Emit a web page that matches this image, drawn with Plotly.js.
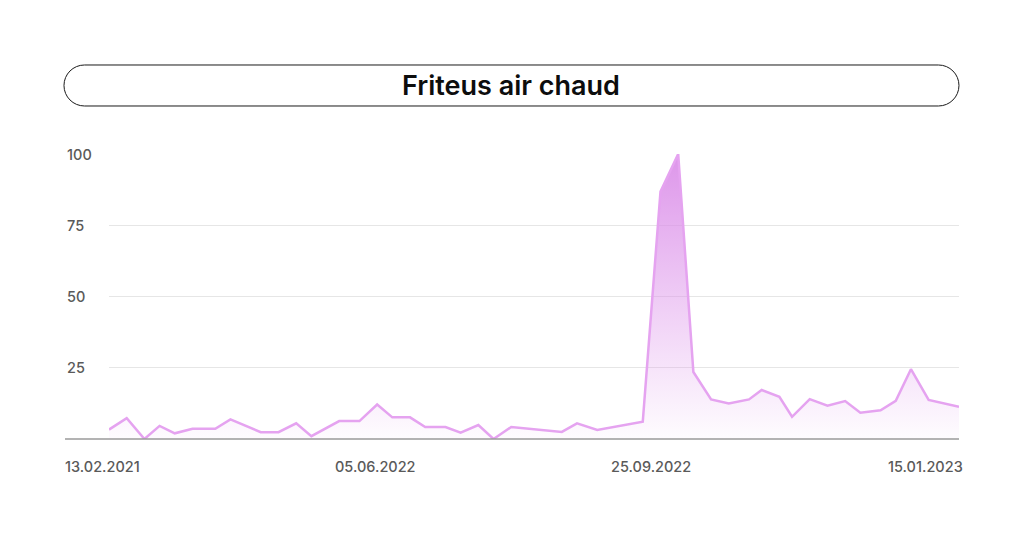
<!DOCTYPE html>
<html>
<head>
<meta charset="utf-8">
<script src="https://cdn.plot.ly/plotly-3.0.1.min.js"></script>
<style>html,body{margin:0;padding:0;background:#fff;}#chart{width:1024px;height:538px;}</style>
</head>
<body>
<div id="chart"></div>
<script>
// ---- data ----
const chartTitle = "Friteus air chaud";
const dates = [
  "2022-02-13","2022-02-20","2022-02-27","2022-03-05","2022-03-11","2022-03-18","2022-03-27","2022-04-02",
  "2022-04-14","2022-04-21","2022-04-28","2022-05-04","2022-05-15","2022-05-23","2022-05-30","2022-06-05",
  "2022-06-12","2022-06-18","2022-06-26","2022-07-02","2022-07-09","2022-07-15","2022-07-22","2022-08-11",
  "2022-08-17","2022-08-25","2022-09-12","2022-09-19","2022-09-26","2022-10-02","2022-10-09","2022-10-16",
  "2022-10-24","2022-10-29","2022-11-05","2022-11-10","2022-11-17","2022-11-24","2022-12-01","2022-12-07",
  "2022-12-15","2022-12-21","2022-12-27","2023-01-03","2023-01-15"
];
const interest = [
  3.3, 7.3, 0, 4.6, 2, 3.6, 3.6, 6.9,
  2.4, 2.4, 5.5, 1, 6.3, 6.3, 12.1, 7.6,
  7.6, 4.2, 4.2, 2.2, 4.9, 0, 4.2, 2.5,
  5.5, 3.2, 6.1, 86.8, 100, 23.5, 13.9, 12.5,
  13.9, 17.2, 14.8, 7.8, 14, 11.7, 13.3, 9.2,
  10.1, 13.4, 24.5, 13.7, 11.3
];
const xTickLabels = ["13.02.2021", "05.06.2022", "25.09.2022", "15.01.2023"];
const yTickValues = [25, 50, 75, 100];

// ---- styling / layout ----
const xLabelPos = [-0.0082, 0.313, 0.6376, 0.96];
const labelFont = {family: "Inter, 'Open Sans', sans-serif", size: 14.5, color: "#5a5a5a", weight: 500};

const trace = {
  x: dates, y: interest, type: "scatter", mode: "lines",
  line: {color: "#e5a3f0", width: 2.5, shape: "linear"},
  fill: "tozeroy",
  fillgradient: {type: "vertical", colorscale: [[0, "rgba(222,150,236,0.03)"], [1, "rgba(218,140,232,0.92)"]]},
  cliponaxis: false, hoverinfo: "skip"
};

const annotations = [];
xTickLabels.forEach((t, i) => annotations.push({
  text: t, xref: "paper", yref: "paper", x: xLabelPos[i], y: -0.095,
  xanchor: "center", yanchor: "middle", showarrow: false, font: labelFont
}));
yTickValues.forEach(v => annotations.push({
  text: String(v), xref: "paper", yref: "y", x: -0.0518, y: v,
  xanchor: "left", yanchor: "middle", showarrow: false, font: labelFont
}));
annotations.push({
  text: chartTitle, xref: "paper", yref: "paper", x: 0.4735, y: 1.2404,
  xanchor: "center", yanchor: "middle", showarrow: false,
  font: {family: "Inter, 'Open Sans', sans-serif", size: 27, color: "#0d0d0d", weight: 600}
});

// pill-shaped title frame (pixel path around an anchor)
const hw = 427, r = 20.5, k = 0.5523 * r;
const pill = `M ${-hw},${-r} L ${hw},${-r} C ${hw + k},${-r} ${hw + r},${-k} ${hw + r},0 C ${hw + r},${k} ${hw + k},${r} ${hw},${r} ` +
             `L ${-hw},${r} C ${-hw - k},${r} ${-hw - r},${k} ${-hw - r},0 C ${-hw - r},${-k} ${-hw - k},${-r} ${-hw},${-r} Z`;

const layout = {
  width: 1024, height: 538,
  margin: {l: 109, r: 65, t: 154, b: 99},
  paper_bgcolor: "#ffffff", plot_bgcolor: "#ffffff",
  showlegend: false,
  xaxis: {type: "date", range: ["2022-02-13", "2023-01-15"], showgrid: false, zeroline: false,
          showticklabels: false, ticks: "", showline: false, fixedrange: true},
  yaxis: {range: [0, 100], tickvals: yTickValues, showticklabels: false, showgrid: true,
          gridcolor: "#e6e6e6", gridwidth: 1, zeroline: false, showline: false, ticks: "", fixedrange: true},
  annotations: annotations,
  shapes: [
    {type: "line", xref: "paper", yref: "paper", x0: -0.0518, x1: 1, y0: 0, y1: 0,
     line: {color: "#9a9a9a", width: 1.5}, layer: "above"},
    {type: "path", xref: "paper", yref: "paper", xsizemode: "pixel", ysizemode: "pixel",
     xanchor: 0.4735, yanchor: 1.2404, path: pill, line: {color: "#1a1a1a", width: 1}, fillcolor: "rgba(0,0,0,0)"}
  ]
};

Plotly.newPlot("chart", [trace], layout, {displayModeBar: false, staticPlot: true});
</script>
</body>
</html>
